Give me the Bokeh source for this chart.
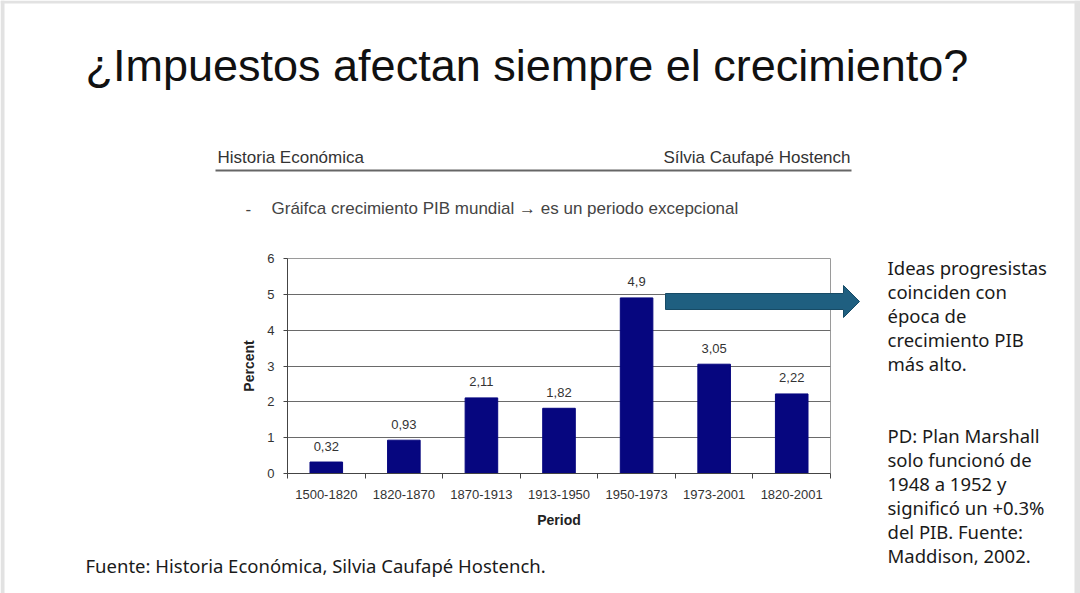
from bokeh.plotting import figure
from bokeh.models import Label, FixedTicker, Range1d, ColumnDataSource, GridBox
from bokeh.core.properties import value
from bokeh.embed import file_html
from bokeh.resources import INLINE

# ---- data ----
periods = ["1500-1820", "1820-1870", "1870-1913", "1913-1950", "1950-1973", "1973-2001", "1820-2001"]
growth = [0.32, 0.93, 2.11, 1.82, 4.9, 3.05, 2.22]
y_ticks = [0, 1, 2, 3, 4, 5, 6]
value_labels = [f"{v:g}".replace(".", ",") for v in growth]

title_text = "¿Impuestos afectan siempre el crecimiento?"
header_left = "Historia Económica"
header_right = "Sílvia Caufapé Hostench"
subtitle = "Gráifca crecimiento PIB mundial \u2192 es un periodo excepcional"
note1 = ["Ideas progresistas", "coinciden con", "época de", "crecimiento PIB", "más alto."]
note2 = ["PD: Plan Marshall", "solo funcionó de", "1948 a 1952 y", "significó un +0.3%", "del PIB. Fuente:", "Maddison, 2002."]
source_text = "Fuente: Historia Económica, Silvia Caufapé Hostench."

W, H = 1080, 593
FL, FR, FT, FB = 287, 830, 258, 473
CH = "Liberation Sans"
SIDE = "Noto Sans"

centers = [i + 0.5 for i in range(len(periods))]
src = ColumnDataSource(dict(x=centers, top=growth, lab=value_labels))

# ---------------- chart figure ----------------
p = figure(width=W, height=H, output_backend="svg", toolbar_location=None,
           x_range=Range1d(0, len(periods)), y_range=Range1d(0, y_ticks[-1]),
           min_border_left=FL, min_border_right=W - FR,
           min_border_top=FT, min_border_bottom=H - FB)
p.frame_align = False
p.background_fill_color = "white"
p.border_fill_color = "white"
p.outline_line_color = "#9a9a9a"
p.outline_line_width = 1

p.vbar(x="x", top="top", width=0.42, bottom=0, source=src,
       fill_color="#06067f", line_color="#06067f")
p.text(x="x", y="top", text="lab", source=src, text_align="center",
       text_baseline="middle", y_offset=-16, text_font=value(CH),
       text_font_size="13px", text_color="#333333")

xt = FixedTicker(ticks=centers, minor_ticks=list(range(len(periods) + 1)))
p.xaxis.ticker = xt
p.xaxis.major_label_overrides = {c: lab for c, lab in zip(centers, periods)}
p.xaxis.major_tick_line_color = None
p.xaxis.minor_tick_line_color = "#444444"
p.xaxis.minor_tick_in = 0
p.xaxis.minor_tick_out = 5
p.xaxis.axis_line_color = "#444444"
p.xaxis.major_label_standoff = 10
p.xaxis.axis_label = "Period"
p.xaxis.axis_label_standoff = 10

p.yaxis.ticker = FixedTicker(ticks=y_ticks)
p.yaxis.major_tick_in = 0
p.yaxis.major_tick_out = 4
p.yaxis.major_tick_line_color = "#444444"
p.yaxis.minor_tick_line_color = None
p.yaxis.axis_line_color = "#444444"
p.yaxis.major_label_standoff = 9
p.yaxis.axis_label = "Percent"
p.yaxis.axis_label_standoff = 7

for ax in (p.xaxis, p.yaxis):
    ax.major_label_text_font = CH
    ax.major_label_text_font_size = "13px"
    ax.major_label_text_color = "#333333"
    ax.axis_label_text_font = CH
    ax.axis_label_text_font_size = "14px"
    ax.axis_label_text_font_style = "bold"
    ax.axis_label_text_color = "#222222"

p.xgrid.grid_line_color = None
p.ygrid.ticker = FixedTicker(ticks=y_ticks)
p.ygrid.grid_line_color = "#6a6a6a"
p.ygrid.grid_line_width = 1

# ---------------- overlay figure (slide texts, in pixel coordinates) ----------------
q = figure(width=W, height=H, output_backend="svg", toolbar_location=None,
           x_range=Range1d(0, W), y_range=Range1d(H, 0),
           x_axis_type=None, y_axis_type=None, min_border=0)
q.frame_align = False
q.outline_line_color = None
q.background_fill_alpha = 0
q.border_fill_alpha = 0
q.grid.visible = False

def lab(x, y, text, font, size, color="#111111", align="left", baseline="middle"):
    q.add_layout(Label(x=x, y=y, text=text, text_font=font, text_font_size=size,
                       text_color=color, text_align=align, text_baseline=baseline))

# slide frame strips
q.quad(left=[0, 0, 1074], right=[4, W, W], top=[0, 0, 0], bottom=[H, 3, H],
       fill_color="#e2e2e2", line_color=None)

lab(85, 65, title_text, CH, "45px", "#111111", baseline="alphabetic")
lab(217, 157, header_left, CH, "17px", "#333333")
lab(850, 157, header_right, CH, "17px", "#333333", align="right")
q.quad(left=[215], right=[851], top=[169], bottom=[171], fill_color="#666666", line_color=None)
lab(245, 208, "-", CH, "17px", "#444444")
lab(271, 208, subtitle, CH, "17px", "#444444")

for i, t in enumerate(note1):
    lab(887, 267 + 24 * i, t, SIDE, "18.5px", "#1a1a1a")
for i, t in enumerate(note2):
    lab(887, 435 + 24 * i, t, SIDE, "18.5px", "#1a1a1a")
lab(85, 565, source_text, SIDE, "18.5px", "#1a1a1a")

# arrow
q.patch(x=[665, 843, 843, 859, 843, 843, 665], y=[293, 293, 285, 301, 317, 309, 309],
        fill_color="#1f5f80", line_color="#174b66", line_width=1)

layout = GridBox(children=[(p, 0, 0), (q, 0, 0)])
open("out.html", "w").write(file_html(layout, INLINE))
